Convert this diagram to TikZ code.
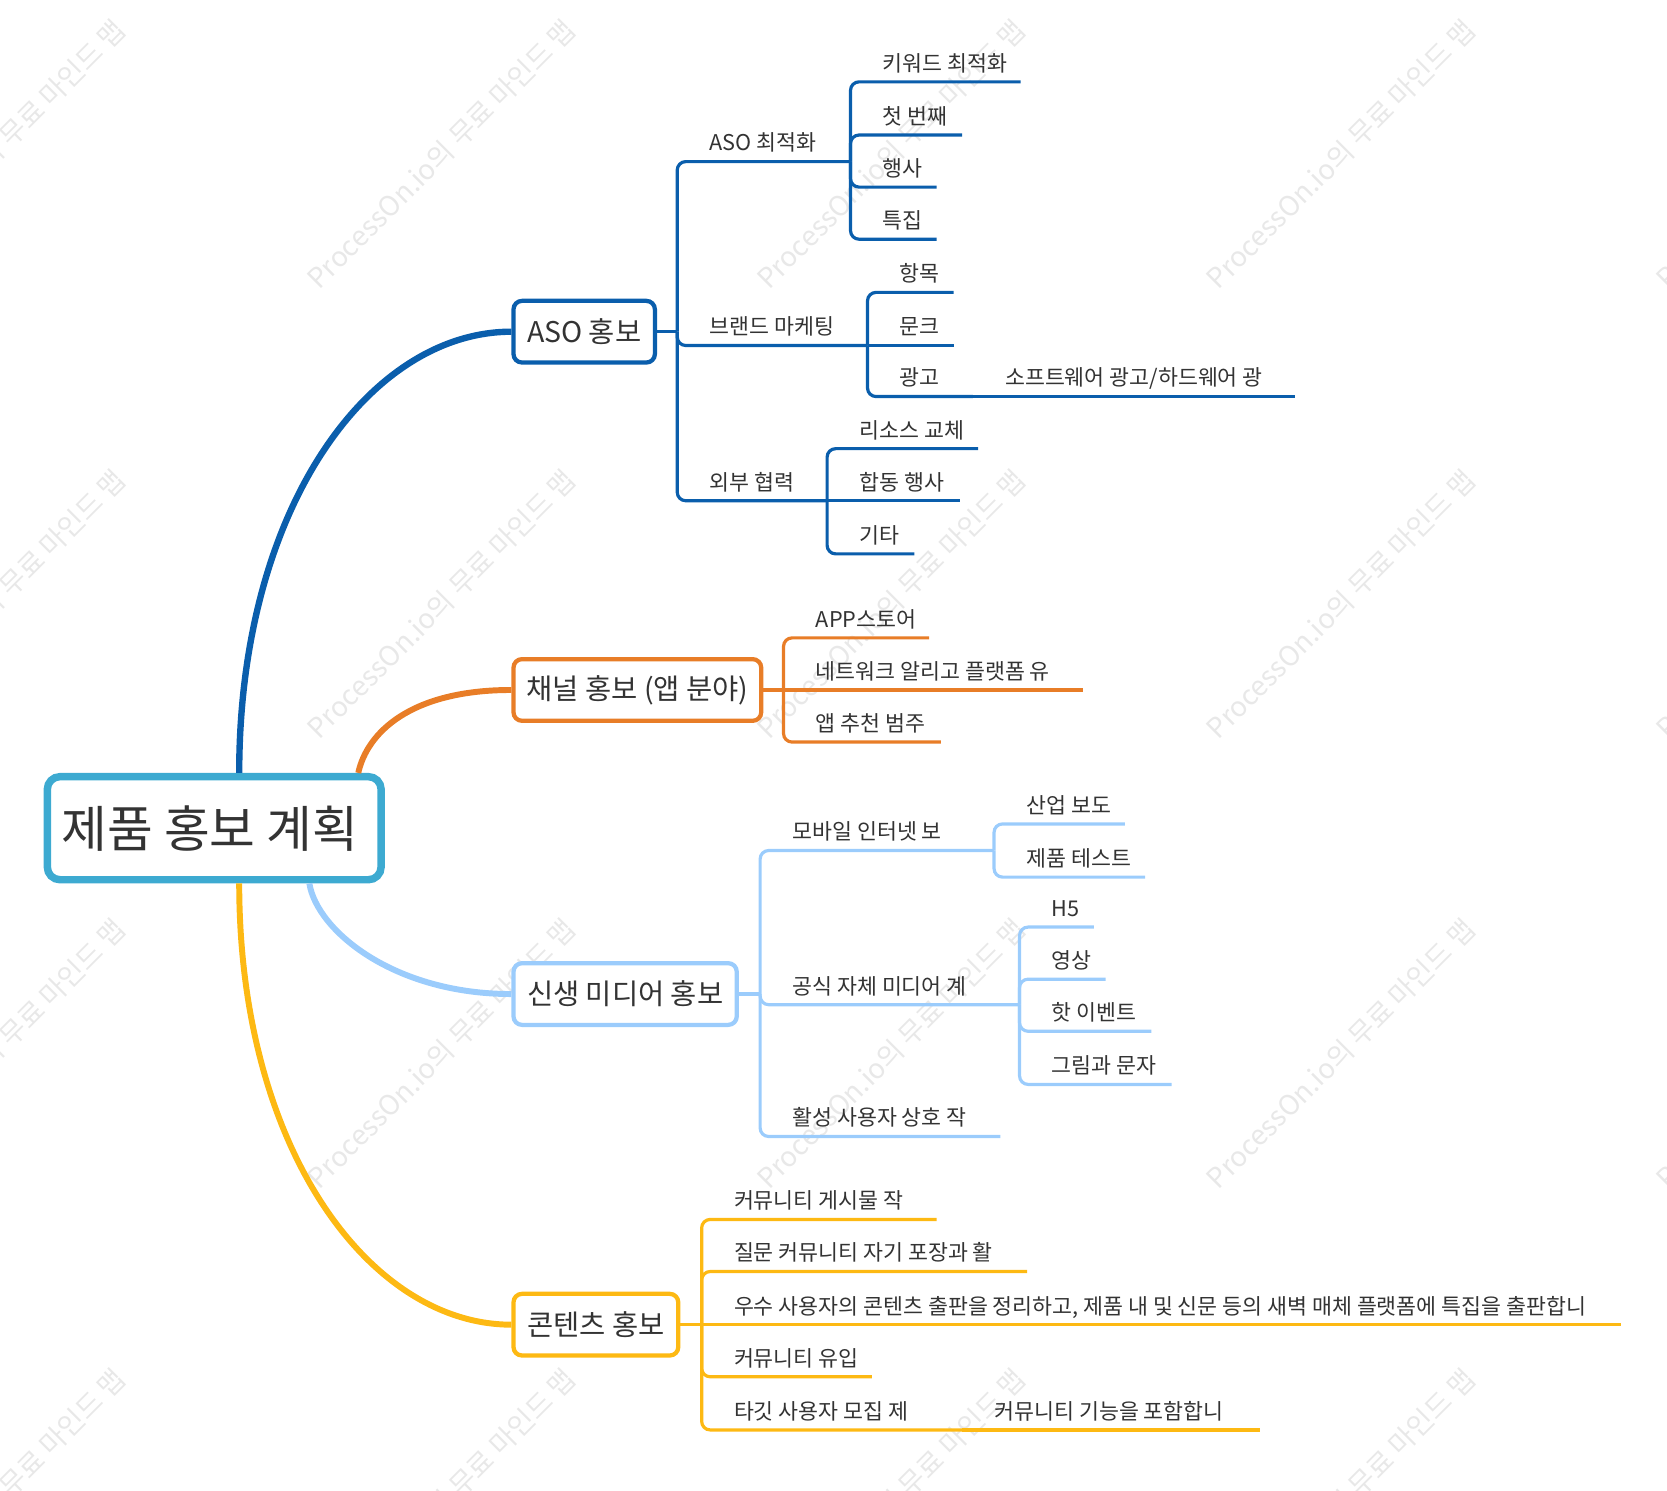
\documentclass[tikz,border=0pt]{standalone}
\usepackage{fontspec}
\setmainfont{Noto Sans CJK KR}
\definecolor{cblue}{RGB}{10,94,172}
\definecolor{corange}{RGB}{232,125,39}
\definecolor{clight}{RGB}{155,204,252}
\definecolor{cyellow}{RGB}{253,185,19}
\definecolor{croot}{RGB}{61,170,209}
\definecolor{tcol}{RGB}{51,51,51}
\newcommand{\mmleaf}[7]{%
  \node[lbl] (#1) at (#4,{10-#5}) {#7};
  \coordinate (#1e) at (#6,-#5);
  \draw[#2,br] (#3) |- (#1e);
}
\newcommand{\mmgrand}[7]{%
  \node[lbl] (#1) at (#4,{10-#5}) {#7};
  \coordinate (#1e) at (#6,-#5);
  \draw[#2,br] (#3) -- (#1e);
}
\begin{document}
\begin{tikzpicture}[x=0.5pt,y=0.5pt,
  lbl/.style={anchor=base west, inner sep=0pt, text=tcol, font=\fontsize{10.2}{12}\selectfont},
  topbox/.style={draw, line width=2pt, rounded corners=4pt, fill=white, inner sep=0pt, text=tcol,
     font=\fontsize{13.4}{15}\selectfont, minimum height=29pt},
  br/.style={line width=1.5pt, rounded corners=4pt},
  curve/.style={line width=2.8pt},
  wm/.style={rotate=45, text=black!9, inner sep=0pt, font=\fontsize{13}{15}\selectfont},
]
\useasboundingbox (0,0) rectangle (1568,-1402);

% watermark
\foreach \i in {-1,...,3} {
  \foreach \j in {0,...,3} {
    \node[wm] (wm\i\j) at ({415+423*\i},{-145-423*\j}) {ProcessOn.io의 무료 마인드 맵};
  }
}

% boxes
\node[draw=croot, line width=3.5pt, rounded corners=6pt, fill=white, minimum width=157pt,
  minimum height=48.5pt, inner sep=0pt, font=\fontsize{23.4}{26}\selectfont, text=tcol]
  (root) at (201.5,-779) {제품 홍보 계획\hspace*{4pt}};
\node[topbox, draw=cblue, minimum width=66.5pt] (aso) at (549.5,-312) {ASO 홍보};
\node[topbox, draw=corange, minimum width=116.5pt] (chan) at (599.5,-649) {채널 홍보 (앱 분야)};
\node[topbox, draw=clight, minimum width=105pt] (media) at (588,-935) {신생 미디어 홍보};
\node[topbox, draw=cyellow, minimum width=77.5pt] (cont) at (560.5,-1246) {콘텐츠 홍보};

% main curves
\coordinate (r1) at (225,-727);
\coordinate (r2) at (337,-727);
\coordinate (r3) at (291,-831);
\coordinate (r4) at (225,-831);
\draw[cblue, line width=3pt] (r1) .. controls (225,-477) and (348,-312) .. (aso.west);
\draw[corange, curve] (r2) .. controls (345,-690) and (385,-649) .. (chan.west);
\draw[clight, curve] (r3) .. controls (298,-875) and (370,-935) .. (media.west);
\draw[cyellow, curve] (r4) .. controls (225,-1081) and (348,-1246) .. (cont.west);

% ASO branch
\coordinate (asoJ) at (637,-312);
\draw[cblue,br] (aso.east) -- (asoJ);
\mmleaf{a1}{cblue}{asoJ}{667}{152}{800}{ASO 최적화}
\mmleaf{a2}{cblue}{asoJ}{667}{325}{816}{브랜드 마케팅}
\mmleaf{a3}{cblue}{asoJ}{667}{471}{778}{외부 협력}
\mmleaf{a11}{cblue}{a1e}{830}{77}{960}{키워드 최적화}
\mmleaf{a12}{cblue}{a1e}{830}{127}{905}{첫 번째}
\mmleaf{a13}{cblue}{a1e}{830}{176}{881}{행사}
\mmleaf{a14}{cblue}{a1e}{830}{225}{881}{특집}
\mmleaf{a21}{cblue}{a2e}{846}{275}{897}{항목}
\mmgrand{a22}{cblue}{a2e}{846}{325}{897}{문크}
\mmleaf{a23}{cblue}{a2e}{846}{373}{915}{광고}
\mmgrand{a231}{cblue}{a23e}{945}{373}{1218}{소프트웨어 광고/하드웨어 광}
\mmleaf{a31}{cblue}{a3e}{808}{422}{920}{리소스 교체}
\mmgrand{a32}{cblue}{a3e}{808}{471}{903}{합동 행사}
\mmleaf{a33}{cblue}{a3e}{808}{521}{860}{기타}

% channel branch
\coordinate (chJ) at (737,-649);
\draw[corange,br] (chan.east) -- (chJ);
\mmleaf{c1}{corange}{chJ}{767}{600}{874}{APP스토어}
\mmgrand{c2}{corange}{chJ}{767}{649}{1019}{네트워크 알리고 플랫폼 유}
\mmleaf{c3}{corange}{chJ}{767}{698}{885}{앱 추천 범주}

% media branch
\coordinate (mJ) at (715,-935);
\draw[clight,br] (media.east) -- (mJ);
\mmleaf{m1}{clight}{mJ}{745}{800}{935}{모바일 인터넷 보}
\mmleaf{m2}{clight}{mJ}{745}{945}{959}{공식 자체 미디어 계}
\mmleaf{m3}{clight}{mJ}{745}{1069}{941}{활성 사용자 상호 작}
\mmleaf{m11}{clight}{m1e}{965}{775}{1058}{산업 보도}
\mmleaf{m12}{clight}{m1e}{965}{825}{1077}{제품 테스트}
\mmleaf{m21}{clight}{m2e}{989}{872}{1029}{H5}
\mmleaf{m22}{clight}{m2e}{989}{921}{1040}{영상}
\mmleaf{m23}{clight}{m2e}{989}{970}{1083}{핫 이벤트}
\mmleaf{m24}{clight}{m2e}{989}{1020}{1102}{그림과 문자}

% content branch
\coordinate (tJ) at (660,-1246);
\draw[cyellow,br] (cont.east) -- (tJ);
\mmleaf{t1}{cyellow}{tJ}{690}{1147}{881}{커뮤니티 게시물 작}
\mmleaf{t2}{cyellow}{tJ}{690}{1196}{966}{질문 커뮤니티 자기 포장과 활}
\mmgrand{t3}{cyellow}{tJ}{690}{1246}{1525}{우수 사용자의 콘텐츠 출판을 정리하고, 제품 내 및 신문 등의 새벽 매체 플랫폼에 특집을 출판합니}
\mmleaf{t4}{cyellow}{tJ}{690}{1295}{820}{커뮤니티 유입}
\mmleaf{t5}{cyellow}{tJ}{690}{1345}{905}{타깃 사용자 모집 제}
\mmgrand{t51}{cyellow}{t5e}{935}{1345}{1185}{커뮤니티 기능을 포함합니}
\end{tikzpicture}
\end{document}
